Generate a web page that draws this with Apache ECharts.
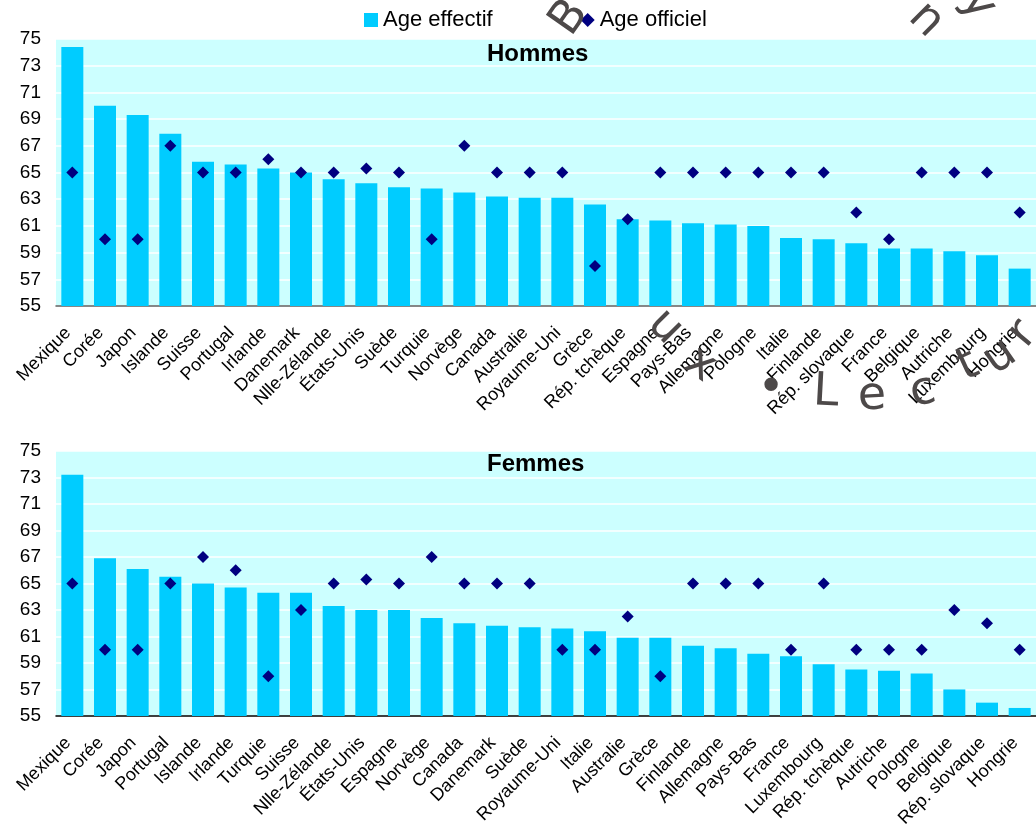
<!DOCTYPE html>
<html>
<head>
<meta charset="utf-8">
<script src="https://cdn.jsdelivr.net/npm/echarts@6/dist/echarts.min.js"></script>
<style>
  html, body { margin: 0; padding: 0; background: #fff; }
  #chart { width: 1036px; height: 830px; }
</style>
</head>
<body>
<div id="chart"></div>
<script>
const hommesPays = ['Mexique', 'Corée', 'Japon', 'Islande', 'Suisse', 'Portugal', 'Irlande', 'Danemark', 'Nlle-Zélande', 'États-Unis',
    'Suède', 'Turquie', 'Norvège', 'Canada', 'Australie', 'Royaume-Uni', 'Grèce', 'Rép. tchèque', 'Espagne', 'Pays-Bas',
    'Allemagne', 'Pologne', 'Italie', 'Finlande', 'Rép. slovaque', 'France', 'Belgique', 'Autriche', 'Luxembourg', 'Hongrie'];
const hommesEffectif = [74.4, 70.0, 69.3, 67.9, 65.8, 65.6, 65.3, 65.0, 64.5, 64.2,
    63.9, 63.8, 63.5, 63.2, 63.1, 63.1, 62.6, 61.5, 61.4, 61.2,
    61.1, 61.0, 60.1, 60.0, 59.7, 59.3, 59.3, 59.1, 58.8, 57.8];
const hommesOfficiel = [65, 60, 60, 67, 65, 65, 66, 65, 65, 65.3,
    65, 60, 67, 65, 65, 65, 58, 61.5, 65, 65,
    65, 65, 65, 65, 62, 60, 65, 65, 65, 62];

const femmesPays = ['Mexique', 'Corée', 'Japon', 'Portugal', 'Islande', 'Irlande', 'Turquie', 'Suisse', 'Nlle-Zélande', 'États-Unis',
    'Espagne', 'Norvège', 'Canada', 'Danemark', 'Suède', 'Royaume-Uni', 'Italie', 'Australie', 'Grèce', 'Finlande',
    'Allemagne', 'Pays-Bas', 'France', 'Luxembourg', 'Rép. tchèque', 'Autriche', 'Pologne', 'Belgique', 'Rép. slovaque', 'Hongrie'];
const femmesEffectif = [73.2, 66.9, 66.1, 65.5, 65.0, 64.7, 64.3, 64.3, 63.3, 63.0,
    63.0, 62.4, 62.0, 61.8, 61.7, 61.6, 61.4, 60.9, 60.9, 60.3,
    60.1, 59.7, 59.5, 58.9, 58.5, 58.4, 58.2, 57.0, 56.0, 55.6];
const femmesOfficiel = [65, 60, 60, 65, 67, 66, 58, 63, 65, 65.3,
    65, 67, 65, 65, 65, 60, 60, 62.5, 58, 65,
    65, 65, 60, 65, 60, 60, 60, 63, 62, 60];

// filigrane (tampon gris) : lettre, x, y, rotation en degrés
const filigrane = [
    ['B', 570, 18, 55], ['n', 926, 20, -45], ['y', 978, 4, -55],
    ['u', 665, 327, -45], ['x', 700, 365, -35], ['•', 771, 390, 0],
    ['L', 826, 393, -3], ['e', 872, 397, 3], ['c', 923, 392, 12],
    ['t', 968, 366, 25], ['u', 1000, 357, 35], ['r', 1023, 334, 50]
];

const FONT = 'Liberation Sans, Arial, sans-serif';
const chart = echarts.init(document.getElementById('chart'));

function grid(top) {
    return {
        left: 56, top: top, width: 990, height: 267,
        show: true, backgroundColor: '#ccffff', borderWidth: 0
    };
}

function xAxis(idx, pays, lineColor) {
    return {
        type: 'category', gridIndex: idx, data: pays,
        axisLine: { lineStyle: { color: lineColor, width: 1.5 } },
        axisTick: { show: false },
        axisLabel: {
            interval: 0, rotate: 45, margin: 20, padding: [0, 6, 0, 0],
            color: '#000', fontSize: 18, fontFamily: FONT
        }
    };
}

function yAxis(idx) {
    return {
        type: 'value', gridIndex: idx, min: 55, max: 75, interval: 2,
        axisLine: { show: false }, axisTick: { show: false },
        axisLabel: { color: '#000', fontSize: 19, fontFamily: FONT, margin: 15 },
        splitLine: { lineStyle: { color: '#ffffff', width: 1.5 } }
    };
}

function barSerie(idx, data) {
    return {
        name: 'Age effectif', type: 'bar', xAxisIndex: idx, yAxisIndex: idx,
        data: data, barWidth: 22, itemStyle: { color: '#00ccff' }
    };
}

function pointSerie(idx, data) {
    return {
        name: 'Age officiel', type: 'scatter', xAxisIndex: idx, yAxisIndex: idx,
        data: data, symbol: 'diamond', symbolSize: 12, itemStyle: { color: '#000080', opacity: 1 }, z: 5
    };
}

chart.setOption({
    animation: false,
    textStyle: { fontFamily: FONT },
    title: [
        { text: 'Hommes', left: 487, top: 42, padding: 0, textStyle: { fontSize: 24, fontWeight: 'bold', color: '#000', fontFamily: FONT } },
        { text: 'Femmes', left: 487, top: 452, padding: 0, textStyle: { fontSize: 24, fontWeight: 'bold', color: '#000', fontFamily: FONT } }
    ],
    legend: {
        left: 364, top: 9, padding: 0, itemWidth: 14, itemHeight: 14, itemGap: 88,
        textStyle: { fontSize: 22, color: '#000', fontFamily: FONT },
        data: [{ name: 'Age effectif', icon: 'rect' }, { name: 'Age officiel', icon: 'diamond' }]
    },
    grid: [grid(39), grid(451)],
    xAxis: [xAxis(0, hommesPays, '#606060'), xAxis(1, femmesPays, '#000')],
    yAxis: [yAxis(0), yAxis(1)],
    series: [
        barSerie(0, hommesEffectif), pointSerie(0, hommesOfficiel),
        barSerie(1, femmesEffectif), pointSerie(1, femmesOfficiel)
    ],
    graphic: filigrane.map(([t, x, y, r]) => ({
        type: 'text', x: x, y: y, rotation: r * Math.PI / 180, z: 100, silent: true,
        style: { text: t, fill: '#4d4949', font: '46px "DejaVu Sans"', align: 'center', verticalAlign: 'middle' }
    }))
});

window.addEventListener('resize', () => chart.resize());
</script>
</body>
</html>
